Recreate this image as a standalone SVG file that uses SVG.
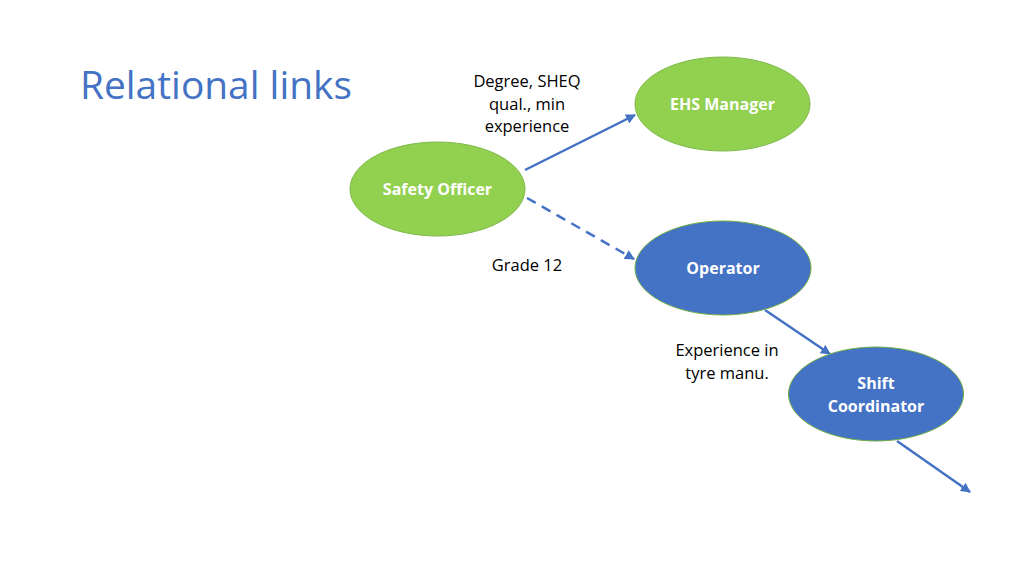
<svg xmlns="http://www.w3.org/2000/svg" width="1024" height="576" viewBox="0 0 1024 576">
<style>
.title{font-family:"Open Sans","Liberation Sans",sans-serif;font-size:39px;fill:#4472C4;}
.lbl{font-family:"Open Sans","Liberation Sans",sans-serif;font-size:16.5px;fill:#000;text-anchor:middle;}
.nt{font-family:"Open Sans","Liberation Sans",sans-serif;font-size:16px;font-weight:bold;fill:#fff;text-anchor:middle;}
.green{fill:#92D050;stroke:#7FB84A;stroke-width:1;}
.blue{fill:#4472C4;stroke:#70AD47;stroke-width:1;}
.conn{stroke:#4472C4;stroke-width:2.5;fill:none;}
</style>
<defs>
<marker id="arr" viewBox="0 0 10 10" refX="9" refY="5" markerWidth="4" markerHeight="4" orient="auto" markerUnits="strokeWidth">
<path d="M0,0 L10,5 L0,10 z" fill="#4472C4"/>
</marker>
</defs>
<rect width="1024" height="576" fill="#fff"/>
<text class="title" x="80" y="99" textLength="272" lengthAdjust="spacingAndGlyphs">Relational links</text>
<g id="connectors">
<line class="conn" x1="525" y1="170" x2="635" y2="115" marker-end="url(#arr)"/>
<line class="conn" x1="527" y1="198" x2="634" y2="259" stroke-dasharray="10,7" marker-end="url(#arr)"/>
<line class="conn" x1="765" y1="310" x2="830" y2="354" marker-end="url(#arr)"/>
<line class="conn" x1="897" y1="441" x2="970" y2="492" marker-end="url(#arr)"/>
</g>
<g id="labels">
<text class="lbl" x="527" y="87">Degree, SHEQ</text>
<text class="lbl" x="527" y="110">qual., min</text>
<text class="lbl" x="527" y="132">experience</text>
<text class="lbl" x="527" y="271">Grade 12</text>
<text class="lbl" x="727" y="356">Experience in</text>
<text class="lbl" x="727" y="379">tyre manu.</text>
</g>
<g id="safety-officer">
<ellipse class="green" cx="437.5" cy="189" rx="87.5" ry="47"/>
<text class="nt" x="437.5" y="195">Safety Officer</text>
</g>
<g id="ehs-manager">
<ellipse class="green" cx="722.5" cy="104" rx="87.5" ry="47"/>
<text class="nt" x="722.5" y="110">EHS Manager</text>
</g>
<g id="operator">
<ellipse class="blue" cx="723" cy="268" rx="88" ry="47"/>
<text class="nt" x="723" y="274">Operator</text>
</g>
<g id="shift-coordinator">
<ellipse class="blue" cx="876" cy="394" rx="87.5" ry="47"/>
<text class="nt" x="876" y="389">Shift</text>
<text class="nt" x="876" y="412">Coordinator</text>
</g>
</svg>
